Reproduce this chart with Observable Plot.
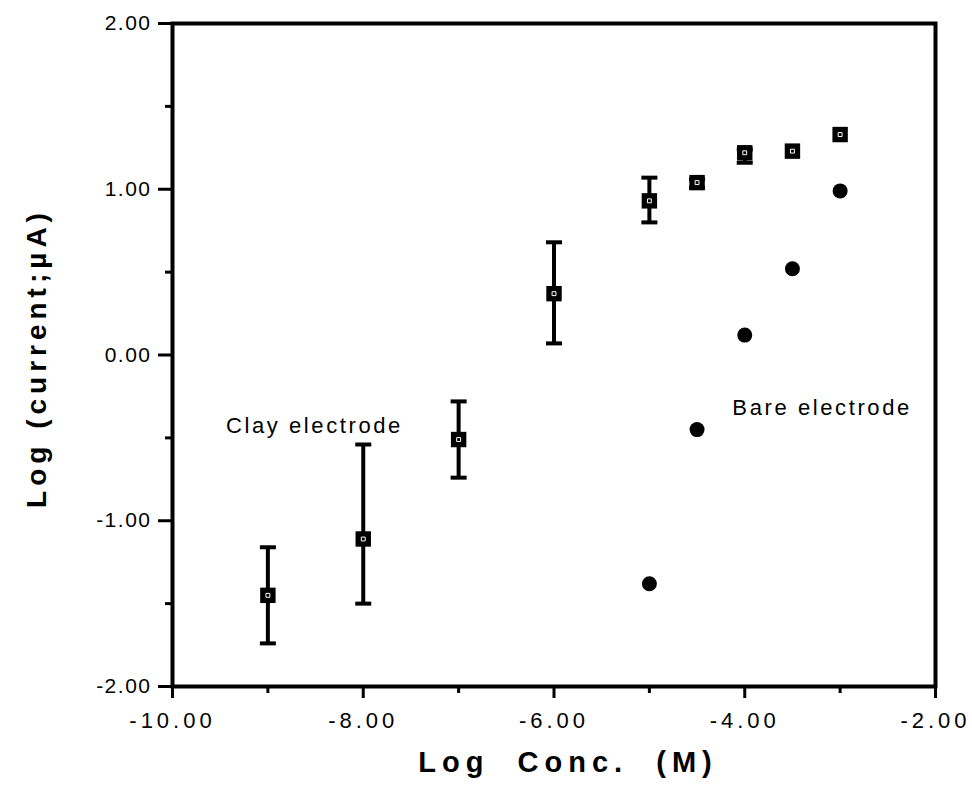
<!DOCTYPE html>
<html>
<head>
<meta charset="utf-8">
<script src="https://cdn.jsdelivr.net/npm/d3@7"></script>
<script src="https://cdn.jsdelivr.net/npm/@observablehq/plot@0.6"></script>
<style>
  html, body { margin: 0; padding: 0; background: #fff; overflow: hidden; }
  #chart { width: 972px; height: 788px; }
</style>
</head>
<body>
<div id="chart"></div>
<script>
// Clay electrode (squares with error bars)
const clayX    = [-9, -8, -7, -6, -5, -4.5, -4, -3.5, -3];
const clayY    = [-1.45, -1.11, -0.51, 0.37, 0.93, 1.04, 1.22, 1.23, 1.33];
const clayLow  = [-1.74, -1.50, -0.74, 0.07, 0.80, 1.01, 1.16, 1.23, 1.33];
const clayHigh = [-1.16, -0.54, -0.28, 0.68, 1.07, 1.06, 1.24, 1.23, 1.33];
// Bare electrode (filled dots)
const bareX = [-5, -4.5, -4, -3.5, -3];
const bareY = [-1.38, -0.45, 0.12, 0.52, 0.99];
// Ticks
const xMajor = [-10, -8, -6, -4, -2];
const xMinor = [-9, -7, -5, -3];
const yMajor = [-2, -1, 0, 1, 2];
const yMinor = [-1.5, -0.5, 0.5, 1.5];
// Labels
const xTitle = "Log  Conc.  (M)";
const yTitle = "Log (current;\u00B5A)";
const annotations = [
  {text: "Clay electrode", x: -9.44, y: -0.43},
  {text: "Bare electrode", x: -4.13, y: -0.32}
];

const clay = clayX.map((x, i) => ({x, y: clayY[i], lo: clayLow[i], hi: clayHigh[i]}));
const bare = bareX.map((x, i) => ({x, y: bareY[i]}));
const bars = clay.filter(d => d.hi - d.lo > 0.001);
const caps = bars.flatMap(d => [{x: d.x, y: d.lo}, {x: d.x, y: d.hi}]);

const capSymbol = {
  draw(context, size) {
    const w = Math.sqrt(size / Math.PI);
    context.moveTo(-w, 0);
    context.lineTo(w, 0);
  }
};

const font = "'Liberation Sans', Arial, Helvetica, sans-serif";
const fmt = d => d.toFixed(2);

const chart = Plot.plot({
  width: 972,
  height: 788,
  marginLeft: 172,
  marginRight: 37,
  marginTop: 23,
  marginBottom: 102,
  style: {fontFamily: font, background: "#fff", color: "#000"},
  x: {domain: [-10, -2], axis: null},
  y: {domain: [-2, 2], axis: null},
  marks: [
    Plot.axisX({ticks: xMajor, tickSize: 12, tickPadding: 14, tickFormat: fmt, strokeWidth: 3, fill: "#000", stroke: "#000", label: null}),
    Plot.axisX({ticks: xMinor, tickSize: 7, tickFormat: () => "", strokeWidth: 3, stroke: "#000", label: null}),
    Plot.axisY({ticks: yMajor, tickSize: 14, tickPadding: 7, tickFormat: fmt, strokeWidth: 3, fill: "#000", stroke: "#000", label: null}),
    Plot.axisY({ticks: yMinor, tickSize: 7, tickFormat: () => "", strokeWidth: 3, stroke: "#000", label: null}),
    Plot.frame({stroke: "#000", strokeWidth: 4}),
    Plot.ruleX(bars, {x: "x", y1: "lo", y2: "hi", stroke: "#000", strokeWidth: 4}),
    Plot.dot(caps, {x: "x", y: "y", symbol: capSymbol, r: 8, stroke: "#000", strokeWidth: 4}),
    Plot.dot(clay, {x: "x", y: "y", symbol: "square", r: 8.7, fill: "#000", stroke: "none"}),
    Plot.dot(clay, {x: "x", y: "y", symbol: "square", r: 2.2, fill: "none", stroke: "#fff", strokeWidth: 1}),
    Plot.dot(bare, {x: "x", y: "y", symbol: "circle", r: 7.5, fill: "#000", stroke: "none"}),
    Plot.text(annotations, {x: "x", y: "y", text: "text", textAnchor: "start", fontSize: 22, fill: "#000"}),
    Plot.text([xTitle], {frameAnchor: "bottom", textAnchor: "middle", lineAnchor: "middle", dy: 76, dx: 14, fontSize: 29, fontWeight: "bold", fill: "#000"}),
    Plot.text([yTitle], {frameAnchor: "left", textAnchor: "middle", lineAnchor: "middle", dx: -135, dy: 3, rotate: -90, fontSize: 28, fontWeight: "bold", fill: "#000"})
  ]
});

const svg = d3.select(chart);
svg.selectAll('g[aria-label="x-axis tick label"] text')
  .style("font-size", "22px").style("letter-spacing", "4px");
svg.selectAll('g[aria-label="y-axis tick label"] text')
  .style("font-size", "21px").style("letter-spacing", "1.5px");
svg.selectAll("text").each(function() {
  const t = this.textContent;
  const s = d3.select(this);
  if (t.includes("electrode")) s.style("letter-spacing", "2.6px").style("font-size", "22px");
  else if (t === xTitle) s.style("letter-spacing", "6px").style("font-size", "29px");
  else if (t === yTitle) s.style("letter-spacing", "5px").style("font-size", "28px");
});
document.getElementById("chart").appendChild(chart);
</script>
</body>
</html>
